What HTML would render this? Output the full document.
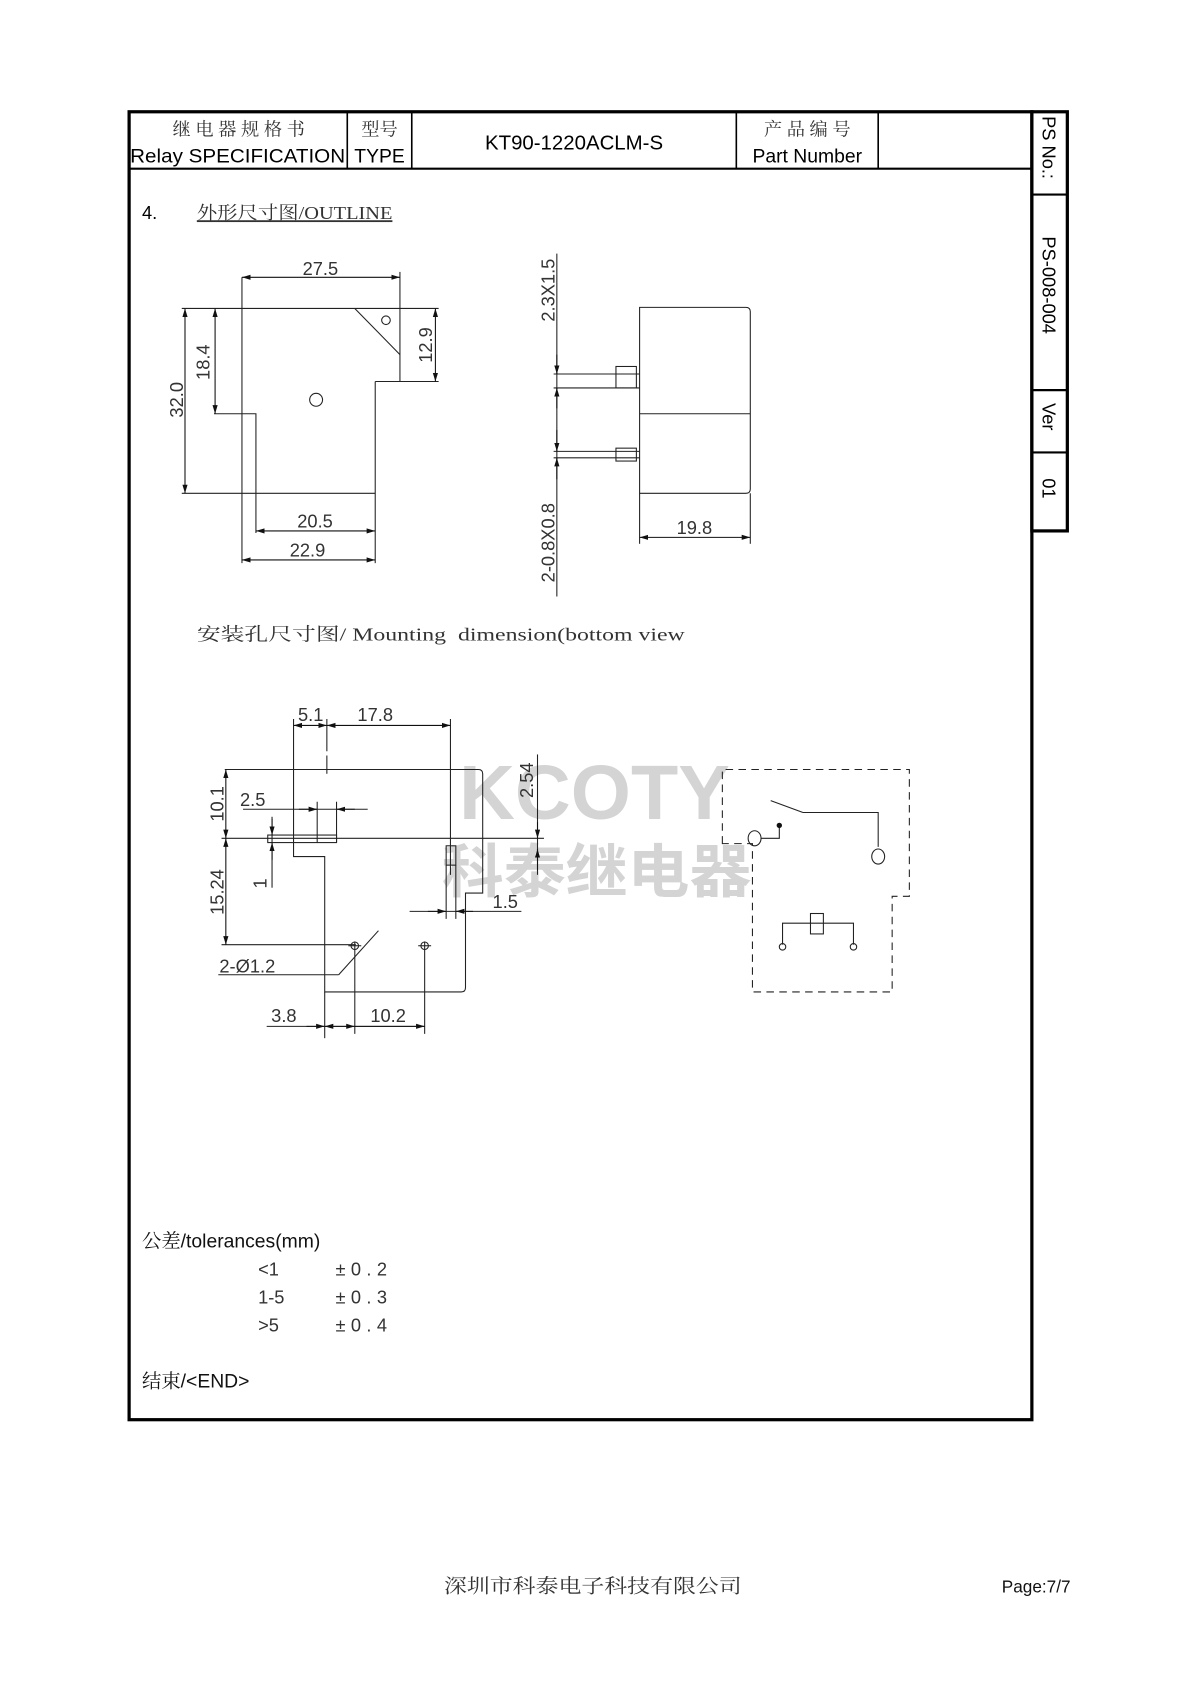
<!DOCTYPE html>
<html><head><meta charset="utf-8"><style>
html,body{margin:0;padding:0;background:#fff;}
svg{display:block;}
text{font-family:"Liberation Sans","Noto Sans CJK SC",sans-serif;}
.s{font-family:"Liberation Serif","Noto Serif CJK SC",serif;}
.d{font-size:17px;fill:#333;}
.l{stroke:#222;stroke-width:1;fill:none;}
</style></head><body>
<svg width="1190" height="1683" viewBox="0 0 1107 1566" xmlns="http://www.w3.org/2000/svg">
<defs>
<marker id="a" viewBox="0 0 10 6" refX="10" refY="3" markerWidth="8" markerHeight="5" orient="auto-start-reverse"><path d="M0,0L10,3L0,6z" fill="#111"/></marker>
</defs>
<rect x="120" y="104" width="840" height="1217" fill="none" stroke="#000" stroke-width="3"/>
<rect x="960" y="104" width="33" height="390" fill="none" stroke="#000" stroke-width="3"/>
<line x1="960" y1="181" x2="993" y2="181" stroke="#000" stroke-width="2"/>
<line x1="960" y1="363" x2="993" y2="363" stroke="#000" stroke-width="2"/>
<line x1="960" y1="421" x2="993" y2="421" stroke="#000" stroke-width="2"/>
<line x1="120" y1="157" x2="960" y2="157" stroke="#000" stroke-width="2"/>
<g stroke="#000" stroke-width="1.5"><line x1="323" y1="104" x2="323" y2="157"/><line x1="383" y1="104" x2="383" y2="157"/><line x1="685" y1="104" x2="685" y2="157"/><line x1="817" y1="104" x2="817" y2="157"/></g>
<g font-size="17" fill="#000">
<text x="222" y="126" text-anchor="middle" class="s" fill="#333">继 电 器 规 格 书</text>
<text x="121" y="151" font-size="18" textLength="200" lengthAdjust="spacingAndGlyphs">Relay SPECIFICATION</text>
<text x="353" y="126" text-anchor="middle" class="s" fill="#333">型号</text>
<text x="353" y="151" text-anchor="middle" font-size="18">TYPE</text>
<text x="534" y="139" text-anchor="middle" font-size="19">KT90-1220ACLM-S</text>
<text x="751" y="126" text-anchor="middle" class="s" fill="#333">产 品 编 号</text>
<text x="751" y="151" text-anchor="middle" font-size="18">Part Number</text>
</g>
<g font-size="17" fill="#000">
<text transform="translate(970,108) rotate(90)">PS No.:</text>
<text transform="translate(970,220) rotate(90)">PS-008-004</text>
<text transform="translate(970,375) rotate(90)">Ver</text>
<text transform="translate(970,445) rotate(90)">01</text>
</g>
<text x="132" y="204" font-size="17">4.</text>
<text x="183" y="204" font-size="17" class="s" fill="#333" text-decoration="underline" textLength="182" lengthAdjust="spacingAndGlyphs">外形尺寸图/OUTLINE</text>

<g class="l">
<polyline points="169,287 408,287"/>
<polyline points="225,258 225,524"/>
<polyline points="372,253 372,355"/>
<polyline points="349,355 408,355"/>
<polyline points="349,355 349,524"/>
<polyline points="169,459 349,459"/>
<polyline points="199,385 238,385 238,496"/>
<line x1="330" y1="287" x2="372" y2="330"/>
<circle cx="359" cy="298" r="4"/>
<circle cx="294" cy="372" r="6"/>
</g>
<g stroke="#111" stroke-width="1">
<line x1="225" y1="258" x2="372" y2="258" marker-start="url(#a)" marker-end="url(#a)"/>
<line x1="172" y1="287" x2="172" y2="459" marker-start="url(#a)" marker-end="url(#a)"/>
<line x1="200" y1="287" x2="200" y2="385" marker-start="url(#a)" marker-end="url(#a)"/>
<line x1="405" y1="287" x2="405" y2="355" marker-start="url(#a)" marker-end="url(#a)"/>
<line x1="238" y1="494" x2="349" y2="494" marker-start="url(#a)" marker-end="url(#a)"/>
<line x1="225" y1="521" x2="349" y2="521" marker-start="url(#a)" marker-end="url(#a)"/>
</g>
<g class="d">
<text x="298" y="256" text-anchor="middle">27.5</text>
<text transform="translate(170,372) rotate(-90)" text-anchor="middle">32.0</text>
<text transform="translate(195,337) rotate(-90)" text-anchor="middle">18.4</text>
<text transform="translate(402,321) rotate(-90)" text-anchor="middle">12.9</text>
<text x="293" y="491" text-anchor="middle">20.5</text>
<text x="286" y="518" text-anchor="middle">22.9</text>
</g>

<g class="l">
<line x1="518" y1="236" x2="518" y2="555"/>
<path d="M595,286 H694 Q698,286 698,290 V455 Q698,459 694,459 H595 Z"/>
<line x1="595" y1="385" x2="698" y2="385"/>
<line x1="515" y1="348" x2="595" y2="348"/><line x1="515" y1="361" x2="595" y2="361"/>
<rect x="573" y="341" width="19" height="20"/>
<line x1="515" y1="420" x2="595" y2="420"/><line x1="515" y1="426" x2="595" y2="426"/>
<rect x="573" y="417" width="19" height="12"/>
<line x1="595" y1="459" x2="595" y2="506"/><line x1="698" y1="459" x2="698" y2="506"/>
</g>
<g stroke="#111" stroke-width="1">
<line x1="518" y1="330" x2="518" y2="348" marker-end="url(#a)"/>
<line x1="518" y1="380" x2="518" y2="361" marker-end="url(#a)"/>
<line x1="518" y1="400" x2="518" y2="420" marker-end="url(#a)"/>
<line x1="518" y1="446" x2="518" y2="426" marker-end="url(#a)"/>
<line x1="595" y1="500" x2="698" y2="500" marker-start="url(#a)" marker-end="url(#a)"/>
</g>
<g class="d">
<text transform="translate(516,270) rotate(-90)" text-anchor="middle">2.3X1.5</text>
<text transform="translate(516,505) rotate(-90)" text-anchor="middle">2-0.8X0.8</text>
<text x="646" y="497" text-anchor="middle">19.8</text>
</g>

<text x="183" y="596" font-size="17" class="s" fill="#333" xml:space="preserve" textLength="454" lengthAdjust="spacingAndGlyphs">安装孔尺寸图/ Mounting  dimension(bottom view</text>

<text x="553" y="762" text-anchor="middle" font-size="72" font-weight="bold" fill="#d4d4d4">KCOTY</text>
<text x="555" y="830" text-anchor="middle" font-size="54" font-weight="bold" fill="#d4d4d4" textLength="288" lengthAdjust="spacingAndGlyphs">科泰继电器</text>

<g class="l">
<path d="M273,797 V716 H445 Q449,716 449,720 V831 H433 V919 Q433,923 429,923 H302 V797 Z"/>
<line x1="209" y1="716" x2="273" y2="716"/>
<line x1="273" y1="669" x2="273" y2="716"/>
<line x1="304" y1="669" x2="304" y2="720" stroke-dasharray="30,4"/>
<line x1="419" y1="669" x2="419" y2="814"/>
<line x1="206" y1="780" x2="506" y2="780"/>
<line x1="206" y1="879" x2="331" y2="879"/>
<line x1="295" y1="746" x2="295" y2="784"/><line x1="313" y1="746" x2="313" y2="784"/>
<rect x="249" y="777" width="64" height="7"/>
<rect x="415" y="787" width="9" height="18"/>
<line x1="415" y1="805" x2="415" y2="855"/><line x1="424" y1="805" x2="424" y2="855"/>
<line x1="302" y1="923" x2="302" y2="966"/>
<line x1="330" y1="876" x2="330" y2="962"/><line x1="395" y1="876" x2="395" y2="962"/>
<circle cx="330" cy="880" r="3.5"/><circle cx="395" cy="880" r="3.5"/>
<line x1="324" y1="880" x2="336" y2="880"/><line x1="389" y1="880" x2="401" y2="880"/>
<line x1="352" y1="866" x2="315" y2="907"/><line x1="315" y1="907" x2="203" y2="907"/>
<line x1="500" y1="702" x2="500" y2="814"/>
<line x1="226" y1="753" x2="342" y2="753"/>
<line x1="381" y1="848" x2="485" y2="848"/>
<line x1="253" y1="760" x2="253" y2="826"/>
<line x1="248" y1="955" x2="395" y2="955"/>
</g>
<g stroke="#111" stroke-width="1">
<line x1="273" y1="675" x2="304" y2="675" marker-start="url(#a)" marker-end="url(#a)"/>
<line x1="304" y1="675" x2="419" y2="675" marker-start="url(#a)" marker-end="url(#a)"/>
<line x1="210" y1="716" x2="210" y2="780" marker-start="url(#a)" marker-end="url(#a)"/>
<line x1="210" y1="780" x2="210" y2="879" marker-start="url(#a)" marker-end="url(#a)"/>
<line x1="278" y1="753" x2="295" y2="753" marker-end="url(#a)"/>
<line x1="330" y1="753" x2="313" y2="753" marker-end="url(#a)"/>
<line x1="253" y1="762" x2="253" y2="777" marker-end="url(#a)"/>
<line x1="253" y1="800" x2="253" y2="784" marker-end="url(#a)"/>
<line x1="500" y1="765" x2="500" y2="780" marker-end="url(#a)"/>
<line x1="500" y1="810" x2="500" y2="790" marker-end="url(#a)"/>
<line x1="398" y1="848" x2="415" y2="848" marker-end="url(#a)"/>
<line x1="440" y1="848" x2="424" y2="848" marker-end="url(#a)"/>
<line x1="285" y1="955" x2="302" y2="955" marker-end="url(#a)"/>
<line x1="302" y1="955" x2="330" y2="955" marker-start="url(#a)" marker-end="url(#a)"/>
<line x1="330" y1="955" x2="395" y2="955" marker-end="url(#a)"/>
</g>
<g class="d">
<text x="289" y="671" text-anchor="middle">5.1</text>
<text x="349" y="671" text-anchor="middle">17.8</text>
<text transform="translate(208,748) rotate(-90)" text-anchor="middle">10.1</text>
<text transform="translate(208,830) rotate(-90)" text-anchor="middle">15.24</text>
<text x="235" y="750" text-anchor="middle">2.5</text>
<text transform="translate(248,822) rotate(-90)" text-anchor="middle">1</text>
<text transform="translate(496,726) rotate(-90)" text-anchor="middle">2.54</text>
<text x="470" y="845" text-anchor="middle">1.5</text>
<text x="204" y="905">2-Ø1.2</text>
<text x="264" y="951" text-anchor="middle">3.8</text>
<text x="361" y="951" text-anchor="middle">10.2</text>
</g>

<g class="l">
<path d="M672,785 V716 H846 V834 H830 V923 H700 V785 Z" stroke-dasharray="7,5"/>
<line x1="717" y1="745" x2="747" y2="756"/>
<polyline points="747,756 817,756 817,788"/>
<ellipse cx="817" cy="797" rx="6" ry="7"/>
<polyline points="725,768 725,780 708,780"/>
<ellipse cx="702" cy="780" rx="6" ry="7"/>
<rect x="754" y="850" width="12" height="19"/>
<polyline points="728,879 728,859 794,859 794,879"/>
<circle cx="728" cy="881" r="3"/><circle cx="794" cy="881" r="3"/>
</g>
<circle cx="725" cy="768" r="2.5" fill="#111"/>

<text x="132" y="1161" font-size="18" fill="#111"><tspan class="s">公差</tspan>/tolerances(mm)</text>
<g class="s" font-size="17" fill="#333">
<text x="240" y="1187">&lt;1</text><text x="312" y="1187" textLength="48">±0.2</text>
<text x="240" y="1213">1-5</text><text x="312" y="1213" textLength="48">±0.3</text>
<text x="240" y="1239">&gt;5</text><text x="312" y="1239" textLength="48">±0.4</text>
</g>
<text x="132" y="1291" font-size="18" fill="#111"><tspan class="s">结束</tspan>/&lt;END&gt;</text>

<text x="413" y="1482" class="s" font-size="18" fill="#333" textLength="277" lengthAdjust="spacingAndGlyphs">深圳市科泰电子科技有限公司</text>
<text x="932" y="1482" font-size="16" fill="#111">Page:7/7</text>
</svg>
</body></html>
